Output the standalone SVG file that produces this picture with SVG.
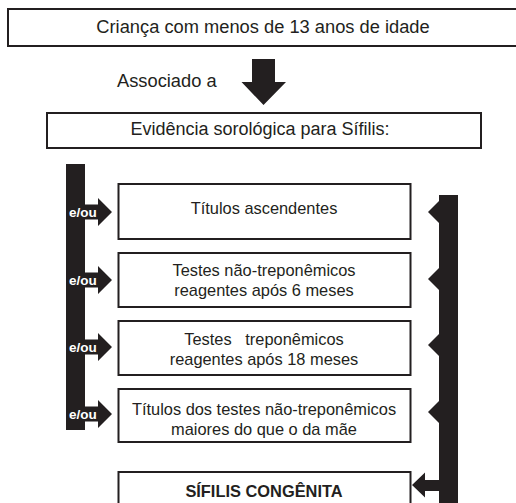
<svg xmlns="http://www.w3.org/2000/svg" width="516" height="503" viewBox="0 0 516 503">
<style>
.box{fill:#fff;stroke:#231f20;stroke-width:2}
.t{font-family:"Liberation Sans",Arial,sans-serif;fill:#231f20;text-anchor:middle}
.big{font-size:18.3px}
.mid{font-size:16.4px}
.eou{font-family:"Liberation Sans",Arial,sans-serif;font-weight:bold;font-size:13.5px;fill:#fff}
.fill{fill:#231f20}
</style>
<rect width="516" height="503" fill="#fff"/>
<g id="top">
<rect class="box" x="8" y="9" width="520" height="37"/>
<text class="t big" x="263" y="33">Criança com menos de 13 anos de idade</text>
</g>
<g id="evidencia">
<rect class="box" x="47" y="113" width="434" height="35"/>
<text class="t" x="260" y="135" style="font-size:18px">Evidência sorológica para Sífilis:</text>
</g>
<g id="box1">
<rect class="box" x="118.5" y="184" width="292" height="55"/>
<text class="t mid" x="264" y="214">Títulos ascendentes</text>
</g>
<g id="box2">
<rect class="box" x="118.5" y="253" width="292" height="54"/>
<text class="t mid" x="264" y="276">Testes não-treponêmicos</text>
<text class="t mid" x="264" y="296">reagentes após 6 meses</text>
</g>
<g id="box3">
<rect class="box" x="118.5" y="321" width="292" height="54"/>
<text class="t mid" x="264" y="345" style="white-space:pre" xml:space="preserve">Testes   treponêmicos</text>
<text class="t mid" x="264" y="365">reagentes após 18 meses</text>
</g>
<g id="box4">
<rect class="box" x="118.5" y="389" width="292" height="53"/>
<text class="t mid" x="264" y="415">Títulos dos testes não-treponêmicos</text>
<text class="t mid" x="264" y="435">maiores do que o da mãe</text>
</g>
<g id="result">
<rect class="box" x="118.5" y="472" width="292" height="40"/>
<text class="t" x="264" y="497" style="font-size:16.4px;font-weight:bold">SÍFILIS CONGÊNITA</text>
</g>
<g id="connectors">
<polygon class="fill" points="252,59 275,59 275,82 286,82 263.5,105 241.5,82 252,82"/>
<text class="t big" x="117" y="87" style="text-anchor:start">Associado a</text>
<rect class="fill" x="66" y="164" width="19" height="266"/>
<polygon class="fill" points="84,204.5 98,204.5 98,198 112,212 98,226 98,219.5 84,219.5"/>
<polygon class="fill" points="84,272.5 98,272.5 98,266 112,280 98,294 98,287.5 84,287.5"/>
<polygon class="fill" points="84,339.5 98,339.5 98,333 112,347 98,361 98,354.5 84,354.5"/>
<polygon class="fill" points="84,406.5 98,406.5 98,400 112,414 98,428 98,421.5 84,421.5"/>
<text class="eou" x="69" y="217">e/ou</text>
<text class="eou" x="69" y="285">e/ou</text>
<text class="eou" x="69" y="352">e/ou</text>
<text class="eou" x="69" y="419">e/ou</text>
<rect class="fill" x="439" y="195" width="19" height="310"/>
<polygon class="fill" points="440,200 428,212 440,224"/>
<polygon class="fill" points="440,267 428,279 440,291"/>
<polygon class="fill" points="440,333 428,345 440,357"/>
<polygon class="fill" points="440,400 428,412 440,424"/>
<polygon class="fill" points="440,480 425,480 425,472.5 412,485 425,497.5 425,491 440,491"/>
</g>
</svg>
